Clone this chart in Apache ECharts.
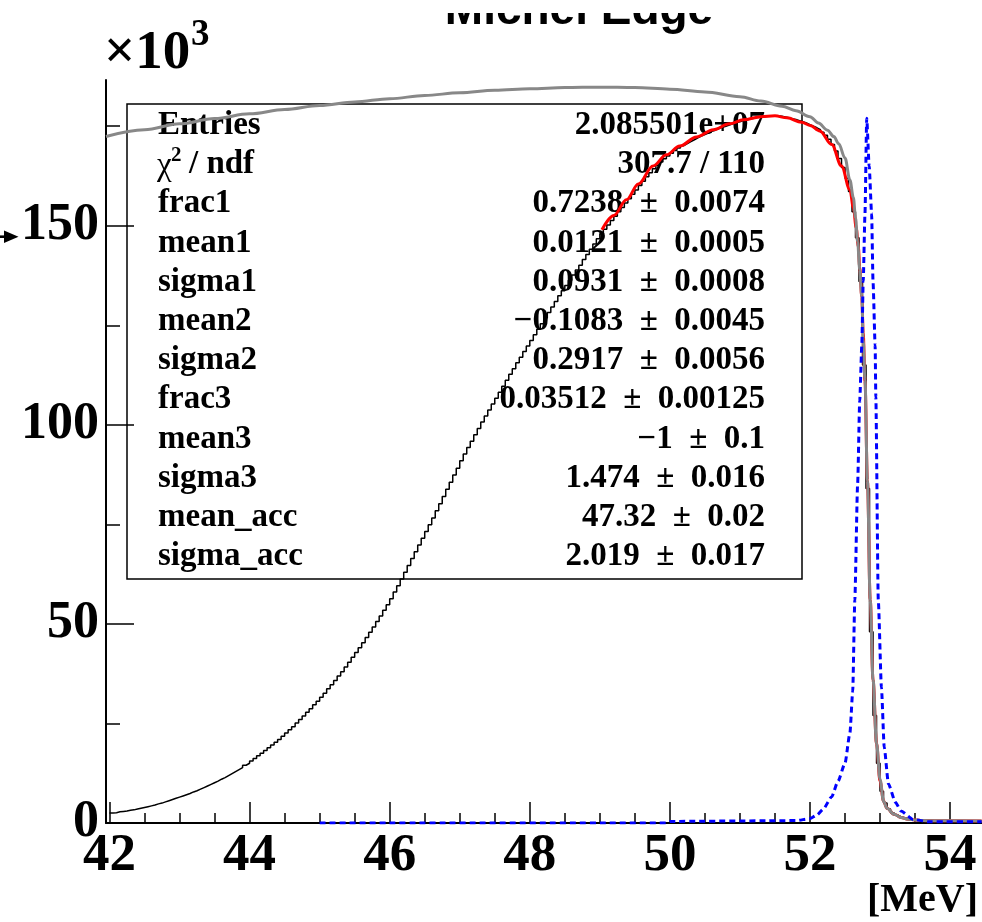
<!DOCTYPE html>
<html>
<head>
<meta charset="utf-8">
<title>Michel Edge</title>
<script src="https://cdn.jsdelivr.net/npm/echarts@6/dist/echarts.min.js"></script>
<style>
  html, body { margin: 0; padding: 0; background: #ffffff; }
  #chart { width: 982px; height: 922px; }
</style>
</head>
<body>
<div id="chart"></div>
<script>
// Positron energy histogram [MeV], counts in units of 10^3, 0.05 MeV bins starting at 42.00
const binStart = 42.0;
const binWidth = 0.05;
const histCounts = [
  // 42.00 - 42.95
  2.5, 2.6, 2.8, 2.9, 3.0, 3.2, 3.3, 3.5, 3.7, 3.9, 4.1, 4.3, 4.5, 4.8, 5.0, 5.3, 5.6, 5.9, 6.2, 6.5,
  // 43.00 - 43.95
  6.8, 7.1, 7.4, 7.8, 8.1, 8.5, 8.9, 9.3, 9.7, 10.1, 10.5, 11.0, 11.4, 11.9, 12.4, 12.9, 13.4, 13.9, 14.5, 15.0,
  // 44.00 - 44.95
  15.6, 16.2, 16.9, 17.5, 18.2, 18.9, 19.6, 20.3, 21.0, 21.8, 22.6, 23.4, 24.2, 25.1, 26.0, 26.9, 27.8, 28.7, 29.7, 30.6,
  // 45.00 - 45.95
  31.6, 32.6, 33.7, 34.7, 35.8, 36.9, 38.0, 39.2, 40.4, 41.6, 42.8, 44.0, 45.3, 46.6, 47.9, 49.2, 50.6, 52.0, 53.4, 54.8,
  // 46.00 - 46.95
  56.3, 58.0, 59.6, 61.3, 63.0, 64.7, 66.4, 68.1, 69.8, 71.5, 73.2, 74.9, 76.6, 78.4, 80.2, 82.0, 83.8, 85.6, 87.4, 89.1,
  // 47.00 - 47.95
  91.0, 92.7, 94.3, 95.9, 97.5, 99.1, 100.7, 102.2, 103.7, 105.2, 106.7, 108.2, 109.7, 111.2, 112.7, 114.1, 115.6, 117.0, 118.4, 119.8,
  // 48.00 - 48.95
  121.2, 122.6, 124.0, 125.4, 126.8, 128.2, 129.6, 131.0, 132.4, 133.7, 135.0, 136.3, 137.6, 138.9, 140.1, 141.5, 142.8, 144.1, 145.4, 146.7,
  // 49.00 - 49.95
  148.0, 149.1, 150.2, 151.3, 152.4, 153.5, 154.6, 155.7, 156.8, 157.9, 159.0, 160.1, 161.2, 162.3, 163.3, 164.3, 165.2, 166.0, 166.8, 167.5,
  // 50.00 - 50.95
  168.2, 168.9, 169.5, 170.1, 170.6, 171.1, 171.6, 172.1, 172.5, 172.9, 173.3, 173.7, 174.0, 174.4, 174.7, 175.0, 175.3, 175.6, 175.9, 176.1,
  // 51.00 - 51.95
  176.4, 176.6, 176.8, 177.0, 177.2, 177.3, 177.4, 177.5, 177.6, 177.6, 177.6, 177.5, 177.3, 177.1, 176.9, 176.7, 176.4, 176.1, 175.8, 175.4,
  // 52.00 - 52.95
  175.0, 174.6, 174.1, 173.5, 172.7, 171.7, 170.4, 168.8, 166.9, 164.6, 161.9, 158.6, 153.5, 147.0, 136.0, 115.0, 84.0, 48.0, 27.0, 15.0,
  // 53.00 - 53.95
  8.0, 5.0, 3.5, 2.6, 2.0, 1.6, 1.3, 1.1, 0.9, 0.8, 0.7, 0.7, 0.6, 0.6, 0.6, 0.5, 0.5, 0.5, 0.5, 0.5,
  // 54.00 - 54.40
  0.5, 0.5, 0.5, 0.5, 0.5, 0.5, 0.5, 0.5, 0.5
];

// Fitted model (red), [MeV, counts/10^3]
const fitCurve = [
  [49.03, 149.0], [49.2, 152.6], [49.38, 156.5], [49.55, 160.5], [49.76, 165.0], [49.95, 167.8],
  [50.14, 170.0], [50.38, 172.3], [50.62, 174.1], [50.85, 175.6], [51.05, 176.6], [51.3, 177.4],
  [51.5, 177.6], [51.67, 177.1], [51.88, 176.0], [52.0, 175.2], [52.14, 173.8], [52.31, 170.4],
  [52.45, 165.0], [52.57, 159.0], [52.62, 154.5], [52.66, 149.5], [52.69, 144.8], [52.71, 139.5],
  [52.74, 132.0], [52.76, 123.0], [52.785, 111.0], [52.82, 86.0], [52.86, 56.0], [52.9, 36.0],
  [52.95, 20.0], [53.0, 10.5], [53.05, 5.5], [53.1, 3.7], [53.2, 2.2], [53.3, 1.4], [53.4, 0.95],
  [53.5, 0.75], [53.6, 0.6], [53.8, 0.55], [54.45, 0.5]
];

// Underlying spectrum with acceptance (grey)
const spectrumCurve = [
  [41.95, 172.4], [42.5, 174.1], [43.0, 175.6], [43.5, 176.9], [44.0, 178.1], [44.5, 179.2],
  [45.0, 180.2], [45.5, 181.1], [46.0, 181.9], [46.5, 182.7], [47.0, 183.4], [47.5, 184.0],
  [48.0, 184.4], [48.5, 184.7], [49.0, 184.8], [49.5, 184.7], [50.0, 184.3], [50.5, 183.6],
  [51.0, 182.4], [51.3, 181.3], [51.6, 180.0], [51.8, 178.9], [52.0, 177.4], [52.12, 175.8],
  [52.25, 174.0], [52.34, 172.4], [52.41, 170.6], [52.5, 167.0], [52.57, 161.5], [52.62, 157.0],
  [52.65, 152.0], [52.68, 146.0], [52.71, 139.0], [52.74, 132.2], [52.76, 121.4], [52.785, 111.3],
  [52.82, 86.0], [52.86, 56.0], [52.9, 36.0], [52.95, 20.0], [53.0, 11.0], [53.05, 5.5], [53.1, 3.7],
  [53.2, 2.2], [53.3, 1.4], [53.4, 0.95], [53.5, 0.75], [53.6, 0.6], [53.8, 0.55], [54.45, 0.5]
];

// Detector response (blue dashed), scaled to the histogram
const resolutionCurve = [
  [45.0, 0], [49.95, 0], [50.0, 0.4], [51.8, 0.6], [52.0, 1.1], [52.1, 2.0], [52.19, 3.5],
  [52.31, 6.6], [52.40, 10.5], [52.5, 15.0], [52.57, 22.6], [52.61, 33.0], [52.64, 56.0],
  [52.68, 85.0], [52.71, 106.0], [52.74, 120.0], [52.76, 136.0], [52.785, 153.0], [52.81, 177.0],
  [52.845, 165.0], [52.88, 153.0], [52.90, 136.0], [52.93, 120.0], [52.94, 107.0], [52.975, 56.0],
  [53.02, 34.0], [53.06, 19.0], [53.12, 9.8], [53.22, 5.2], [53.3, 3.0], [53.47, 0.9], [53.7, 0.3],
  [54.45, 0.3]
];

const xTickLabels = [42, 44, 46, 48, 50, 52, 54];
const xMinorTicks = [42.5, 43, 43.5, 44.5, 45, 45.5, 46.5, 47, 47.5, 48.5, 49, 49.5, 50.5, 51, 51.5, 52.5, 53, 53.5];
const yTickLabels = [0, 50, 100, 150];
const yMinorTicks = [25, 75, 125, 175];

// fit-parameter box; the chi-square row is drawn from separate pieces for the superscript
const statNames = ['Entries', '', 'frac1', 'mean1', 'sigma1', 'mean2', 'sigma2',
                   'frac3', 'mean3', 'sigma3', 'mean_acc', 'sigma_acc'];
const statValues = ['2.085501e+07', '307.7 / 110', '0.7238  ±  0.0074', '0.0121  ±  0.0005',
                    '0.0931  ±  0.0008', '−0.1083  ±  0.0045', '0.2917  ±  0.0056',
                    '0.03512  ±  0.00125', '−1  ±  0.1', '1.474  ±  0.016', '47.32  ±  0.02',
                    '2.019  ±  0.017'];

const X_MIN = 41.95, X_MAX = 54.45;
const Y_MIN = 0, Y_MAX = 186.6;
const serif = '"Liberation Serif", "Times New Roman", serif';

// histogram as step line: each bin's lower edge, plus the closing edge
const histPoints = histCounts.map((v, i) => [+(binStart + i * binWidth).toFixed(3), v]);
histPoints.push([+(binStart + histCounts.length * binWidth).toFixed(3), histCounts[histCounts.length - 1]]);

const tickStyle = { color: '#000', width: 1.5 };

function textEl(x, y, text, font, align) {
  return { type: 'text', z: 0, x: x, y: y,
           style: { text: text, font: font, fill: '#000', align: align, verticalAlign: 'middle' } };
}

function statsGraphics() {
  const font = 'bold 33px ' + serif;
  const els = [{
    type: 'rect', z: 0,
    shape: { x: 127, y: 104, width: 675, height: 475 },
    style: { fill: 'none', stroke: '#000', lineWidth: 1.5 }
  }];
  statNames.forEach((name, i) => {
    const y = 125.5 + 39.2 * i;
    if (name) els.push(textEl(158, y, name, font, 'left'));
    els.push(textEl(765, y, statValues[i], font, 'right'));
  });
  const yc = 125.5 + 39.2;
  els.push(textEl(157, yc + 2, 'χ', '33px ' + serif, 'left'));
  els.push(textEl(171, yc - 9, '2', 'bold 21px ' + serif, 'left'));
  els.push(textEl(189, yc, '/ ndf', font, 'left'));
  return els;
}

const chart = echarts.init(document.getElementById('chart'), null, { renderer: 'canvas' });
chart.setOption({
  animation: false,
  backgroundColor: '#ffffff',
  grid: { left: 106, right: 0.4, top: 80, bottom: 99, containLabel: false },
  xAxis: [
    {
      type: 'value', min: X_MIN, max: X_MAX, position: 'bottom',
      axisLine: { show: true, onZero: false, lineStyle: { color: '#000', width: 2 } },
      axisTick: { show: true, inside: true, length: 21, lineStyle: tickStyle, customValues: xTickLabels },
      axisLabel: { show: true, customValues: xTickLabels, margin: 7, fontSize: 53, fontWeight: 'bold',
                   fontFamily: serif, color: '#000' },
      splitLine: { show: false }
    },
    {
      type: 'value', min: X_MIN, max: X_MAX, position: 'bottom', offset: 0,
      axisLine: { show: false },
      axisTick: { show: true, inside: true, length: 10, lineStyle: tickStyle, customValues: xMinorTicks },
      axisLabel: { show: false },
      splitLine: { show: false }
    }
  ],
  yAxis: [
    {
      type: 'value', min: Y_MIN, max: Y_MAX, position: 'left',
      axisLine: { show: true, onZero: false, lineStyle: { color: '#000', width: 2 } },
      axisTick: { show: true, inside: true, length: 28, lineStyle: tickStyle, customValues: yTickLabels },
      axisLabel: { show: true, customValues: yTickLabels, margin: 7, fontSize: 52, fontWeight: 'bold',
                   fontFamily: serif, color: '#000' },
      splitLine: { show: false }
    },
    {
      type: 'value', min: Y_MIN, max: Y_MAX, position: 'left', offset: 0,
      axisLine: { show: false },
      axisTick: { show: true, inside: true, length: 14, lineStyle: tickStyle, customValues: yMinorTicks },
      axisLabel: { show: false },
      splitLine: { show: false }
    }
  ],
  graphic: [
    ...statsGraphics(),
    // title (its upper part is hidden by the band along the top edge)
    { type: 'text', z: 5, x: 579, y: 11,
      style: { text: 'Michel Edge', font: 'bold 46px "Liberation Sans", Arial, sans-serif', fill: '#000',
               align: 'center', verticalAlign: 'middle' } },
    { type: 'rect', z: 6, shape: { x: 420, y: 0, width: 320, height: 13 }, style: { fill: '#ffffff' } },
    // axis multiplier
    { type: 'text', z: 5, x: 104, y: 54,
      style: { text: '×10', font: 'bold 55px ' + serif, fill: '#000', align: 'left', verticalAlign: 'middle' } },
    { type: 'text', z: 5, x: 191, y: 35,
      style: { text: '3', font: 'bold 37px ' + serif, fill: '#000', align: 'left', verticalAlign: 'middle' } },
    // x-axis unit
    { type: 'text', z: 5, x: 978, y: 901,
      style: { text: '[MeV]', font: 'bold 40px ' + serif, fill: '#000', align: 'right', verticalAlign: 'middle' } },
    // small pointer at the left edge
    { type: 'rect', z: 5, shape: { x: 0, y: 235.4, width: 6, height: 2.6 }, style: { fill: '#000' } },
    { type: 'polygon', z: 5, shape: { points: [[4, 230.5], [18.5, 236.7], [4, 243]] }, style: { fill: '#000' } }
  ],
  series: [
    {
      name: 'data', type: 'line', step: 'end', data: histPoints,
      xAxisIndex: 0, yAxisIndex: 0, symbol: 'none',
      lineStyle: { color: '#000', width: 1.5 }
    },
    {
      name: 'fit', type: 'line', data: fitCurve, smooth: 0.35, smoothMonotone: 'x',
      xAxisIndex: 0, yAxisIndex: 0, symbol: 'none',
      lineStyle: { color: '#ff0000', width: 3 }
    },
    {
      name: 'spectrum', type: 'line', data: spectrumCurve, smooth: 0.35, smoothMonotone: 'x',
      xAxisIndex: 0, yAxisIndex: 0, symbol: 'none',
      lineStyle: { color: '#888888', width: 3 }
    },
    {
      name: 'resolution', type: 'line', data: resolutionCurve, smooth: 0.2, smoothMonotone: 'x',
      xAxisIndex: 0, yAxisIndex: 0, symbol: 'none',
      lineStyle: { color: '#0000ff', width: 3, type: [6, 4] }
    }
  ]
});
</script>
</body>
</html>
